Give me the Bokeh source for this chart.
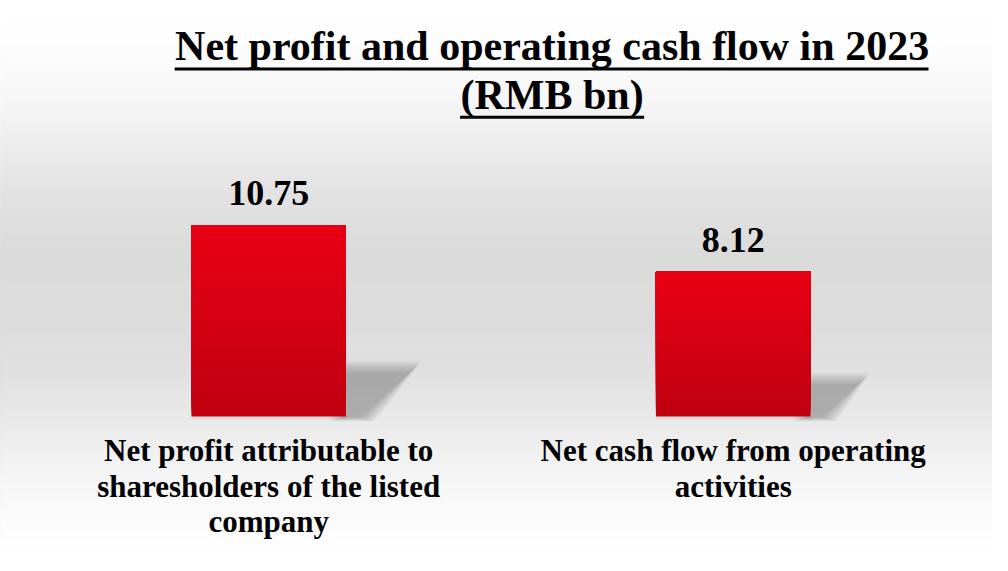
import numpy as np
from bokeh.plotting import figure
from bokeh.models import Range1d
from bokeh.embed import file_html
from bokeh.resources import INLINE
from bokeh.core.properties import value as pv

# ---------------- data ----------------
title_lines = ["Net profit and operating cash flow in 2023", "(RMB bn)"]
categories = ["Net profit attributable to\nsharesholders of the listed\ncompany",
              "Net cash flow from operating\nactivities"]
values = [10.75, 8.12]

# ---------------- layout helpers ----------------
W, H = 992, 555
KX, KY = W / 1008.0, H / 571.0          # reference px -> figure px
X0, SX = 272.5 * KX, 472.0 * KX         # fig px of first category centre, px per category step
Y0, SY = 428.0 * KY, 18.34 * KY         # fig px of zero baseline, px per RMB bn
FONT = pv("Liberation Serif")
BASE_FUDGE = 0.365                      # renderer places alphabetic baseline lower by ~this*size


def px2x(px):
    return (px * KX - X0) / SX


def py2y(py):
    return (Y0 - py * KY) / SY


def base_y(py, fs):
    """data y for a text whose baseline should sit at reference pixel py"""
    return (Y0 - (py * KY - BASE_FUDGE * fs)) / SY


p = figure(width=W, height=H, output_backend="svg", toolbar_location=None,
           x_range=Range1d(px2x(0), px2x(1008)), y_range=Range1d(py2y(571), py2y(0)),
           min_border=0, min_border_left=0, min_border_right=0,
           min_border_top=0, min_border_bottom=0)
p.axis.visible = False
p.grid.visible = False
p.outline_line_color = None
p.background_fill_color = "white"
p.border_fill_color = "white"

# ---------------- background gradient ----------------
stops = [(0, 255), (40, 254), (100, 246), (150, 237), (200, 226), (260, 219),
         (320, 220), (380, 224), (430, 233), (480, 243), (530, 251), (571, 255)]
sy = [s[0] for s in stops]
sv = [s[1] for s in stops]
tops, cols = [], []
for y in range(0, 571, 3):
    g = int(round(np.interp(y + 1.5, sy, sv)))
    tops.append(py2y(y))
    cols.append("#%02x%02x%02x" % (g, g, g))
p.quad(left=px2x(0), right=px2x(1008), top=tops, bottom=py2y(575),
       fill_color=cols, line_color=None)

# ---------------- bars ----------------
xs = list(range(len(values)))
bw = 157 / 472.0
top_col = np.array([233, 0, 20])
bot_col = np.array([190, 0, 16])

for xi, v in zip(xs, values):
    hpx = v * SY
    # shadow (blurred layers)
    bx = xi + bw / 2
    h, w, w2 = 0.255 * hpx, 0.34 * hpx, 0.07 * hpx
    L = 16
    for k in range(L):
        e = (L - k) * 1.0
        pts = [(-e, e * 0.3), (-e, -h + 6 - e * 0.8), (w - 2 + e * 0.8, -h + 6 - e * 0.8),
               (w2 + e, e * 0.3)]
        p.patch([bx + dx / SX for dx, dy in pts], [-dy / SY for dx, dy in pts],
                fill_color="#555555", fill_alpha=0.032, line_color=None)
    # faint shadow under bar
    p.quad(left=xi - bw / 2, right=xi + bw / 2 + 2 / SX, top=0, bottom=-3 / SY,
           fill_color="#000000", fill_alpha=0.06, line_color=None)
    # gradient bar: overlapping slices from the bottom up, no seams
    n = 40
    b_, c_ = [], []
    for j in range(n):
        t = (j + 0.5) / n
        c = bot_col + (top_col - bot_col) * t
        b_.append(v * j / n)
        c_.append("#%02x%02x%02x" % tuple(int(round(q)) for q in c))
    p.quad(left=xi - bw / 2, right=xi + bw / 2, bottom=b_, top=v, fill_color=c_, line_color=None)

# value labels
fs_val = 36
p.text(x=xs, y=[v + (19 * KY + BASE_FUDGE * fs_val) / SY for v in values],
       text=["%.2f" % v for v in values],
       text_font=FONT, text_font_style="bold", text_font_size="%.1fpx" % fs_val,
       text_align="center", text_baseline="alphabetic", text_color="black")

# category labels
fs_cat = 31
lx, ly, lt = [], [], []
for xi, cat in zip(xs, categories):
    for i, line in enumerate(cat.split("\n")):
        lx.append(xi)
        ly.append(base_y(475 + 36.5 * i, fs_cat))
        lt.append(line)
p.text(x=lx, y=ly, text=lt, text_font=FONT, text_font_style="bold",
       text_font_size="%.1fpx" % fs_cat, text_align="center", text_baseline="alphabetic",
       text_color="black")

# ---------------- title ----------------
fs_t = 42
p.text(x=[px2x(560.5), px2x(560.5)], y=[base_y(62.5, fs_t), base_y(113, fs_t)], text=title_lines,
       text_font=FONT, text_font_style="bold", text_font_size="%.1fpx" % fs_t,
       text_align="center", text_baseline="alphabetic", text_color="black")
p.segment(x0=[px2x(177), px2x(467)], x1=[px2x(943), px2x(654)],
          y0=[py2y(70.5), py2y(120)], y1=[py2y(70.5), py2y(120)],
          line_color="black", line_width=3)

open("out.html", "w").write(file_html(p, INLINE))
